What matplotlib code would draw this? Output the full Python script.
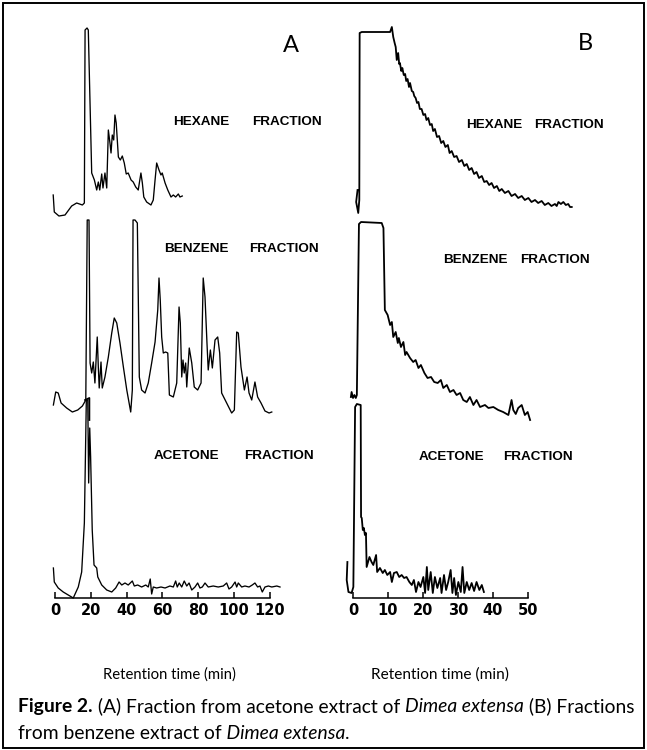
import matplotlib
matplotlib.use("Agg")
import matplotlib.pyplot as plt
from matplotlib.patches import Rectangle

# ---------------- data (retention time in min, detector response in arbitrary units) ----------------
hexA_t = [-1.0,-0.4,2.2,5.6,9.3,12.1,15.3,16.4,16.8,17.9,18.6,20.5,22.0,23.3,24.2,25.0,26.1,26.8,27.9,28.9,
          29.8,30.7,31.3,32.0,32.8,33.5,34.2,35.4,36.5,37.6,38.7,39.8,40.9,42.5,43.7,45.1,46.5,48.0,48.8,49.6,
          51.2,53.6,54.9,55.9,56.8,58.1,59.2,59.9,61.5,63.0,64.8,66.1,67.4,68.9,69.8,71.1]
hexA_r = [21,4,0,1,10,13,11,13,186,188,186,43,36,26,34,26,42,28,43,28,
          86,73,63,81,76,101,93,59,56,60,53,42,43,36,34,29,26,43,33,19,
          14,11,16,36,53,46,41,43,33,26,19,21,19,22,19,20]

benA_t = [-0.9,0.4,1.8,3.4,6.5,9.7,12.7,15.3,17.2,18.0,19.0,19.6,20.5,21.4,22.3,23.6,24.2,24.7,25.7,26.4,
          27.9,29.8,31.7,33.1,34.5,36.3,38.2,40.1,42.3,43.2,43.6,44.7,46.0,47.1,48.4,50.3,52.1,54.0,55.9,57.4,
          58.1,58.8,59.6,60.5,61.8,63.0,63.9,66.1,68.0,69.3,70.0,70.8,71.5,72.2,73.0,73.6,75.0,76.4,77.8,79.7,
          81.6,82.8,83.8,84.9,85.6,86.8,87.9,89.4,90.9,92.0,93.1,95.9,98.7,100.2,101.5,102.4,103.9,105.8,107.3,108.4,
          109.9,111.7,113.2,115.1,117.3,119.6,121.1]
benA_r = [7,20,19,9,4,0,2,6,12,192,192,49,39,50,29,75,45,24,50,24,
          35,55,79,94,89,69,45,22,0,22,192,192,189,35,22,19,29,49,70,102,
          134,112,75,59,60,59,17,15,29,105,89,35,52,39,49,25,64,49,25,22,
          29,134,115,69,42,62,44,72,75,59,19,9,-1,2,80,79,45,22,35,19,
          12,30,15,9,1,-1,0]
benA_mark_t = [16.8, 19.2, 19.2]
benA_mark_r = [12, 14, -8]

aceA_t = [-0.9,-0.4,1.8,4.6,7.4,10.2,13.0,14.9,16.4,17.5,18.3,18.8,19.4,19.9,20.8,21.8,23.3,23.9,26.1,28.9,
          31.7,33.9,35.8,37.3,39.1,40.9,43.2,44.3,46.2,48.4,50.7,52.1,53.2,54.0,54.9,56.8,59.2,61.5,64.2,66.1,
          67.4,68.3,69.4,70.8,72.2,73.6,74.9,76.4,78.2,79.7,81.0,82.3,83.8,85.6,88.4,91.2,94.0,95.9,97.2,98.7,
          100.6,101.5,102.4,104.3,106.1,108.4,110.2,111.7,113.2,114.5,115.8,117.3,119.2,121.1,123.9,125.7]
aceA_r = [30,16,10,6,3,0,11,26,75,198,198,115,170,141,68,33,30,21,13,8,
          6,10,16,13,15,13,17,12,13,11,13,11,19,4,11,10,11,10,12,11,
          17,11,15,11,17,12,15,8,11,15,10,11,15,11,12,11,12,15,9,11,
          16,11,15,11,12,11,13,15,11,12,6,11,12,11,12,11]

hexB_t = [1.3,0.9,1.5,1.8,1.9,2.5,10.6,11.1,11.5,11.9,12.2,12.5,12.9,13.2,13.4,13.8,14.1,14.5,14.9,15.2,
          15.6,16.0,16.3,16.8,17.2,17.5,17.9,18.3,18.7,19.1,19.6,20.1,20.6,21.0,21.5,22.0,22.5,22.9,23.4,24.0,
          24.6,25.2,25.8,26.4,27.1,27.6,28.2,28.9,29.6,30.3,31.1,31.8,32.5,33.2,33.9,34.6,35.3,36.0,36.8,37.5,
          38.2,38.9,39.6,40.3,41.1,41.8,42.5,43.4,44.4,45.3,46.3,47.2,48.2,49.1,50.1,51.0,52.0,52.9,53.9,54.8,
          55.8,56.7,57.7,58.2,58.7,59.4,60.1,60.8,61.5,62.0,62.5]
hexB_r = [23,11,0,13,180,181,181,186,176,170,166,153,160,149,150,142,145,138,139,132,
          134,126,130,122,121,117,115,110,111,104,104,98,99,93,95,88,89,82,84,76,
          77,70,72,66,68,60,62,56,57,51,53,47,49,43,45,39,41,35,37,31,
          32,28,30,25,27,22,24,20,22,17,19,15,17,13,15,11,13,10,12,8,
          10,7,9,7,11,9,11,8,9,6,6]

benB_t = [-0.6,-0.4,0.0,0.4,0.8,1.1,1.7,2.3,8.2,8.7,9.1,9.9,10.6,11.1,11.5,12.2,12.8,13.1,13.7,14.4,
          14.9,15.3,16.3,17.2,17.9,18.7,19.4,20.4,21.3,22.3,23.2,24.2,25.1,25.8,26.8,27.7,28.7,29.6,30.6,31.5,
          32.5,33.4,34.4,35.3,36.3,37.7,38.7,40.1,41.5,42.9,44.4,45.3,45.8,46.5,47.2,48.2,49.1,49.9,50.6]
benB_r = [23,28,22,25,22,25,196,198,197,192,110,105,95,98,83,88,77,82,73,78,
          65,68,62,58,60,52,55,47,42,43,38,37,40,32,35,28,30,25,27,20,
          18,23,15,20,13,15,12,13,10,8,5,20,10,6,12,15,5,8,0]

aceB_t = [-1.6,-1.8,-1.3,-0.4,0.1,0.6,1.1,2.2,2.3,2.5,2.8,3.1,3.4,3.7,3.9,4.7,5.3,5.8,6.6,6.9,
          7.7,8.5,9.1,9.8,10.6,11.1,11.7,12.5,13.2,13.9,14.6,15.3,16.1,16.8,17.4,18.0,18.7,19.3,20.1,20.6,
          21.1,21.5,22.2,22.8,23.4,24.1,24.9,25.3,26.0,26.6,27.2,27.9,28.4,28.9,29.4,30.1,30.8,31.3,31.8,32.5,
          33.2,33.9,34.6,35.3,36.1,36.8,37.4]
aceB_r = [36,18,6,5,11,191,194,193,81,80,68,70,63,65,31,41,36,33,43,26,
          30,25,28,23,26,16,25,26,21,23,20,21,16,13,18,6,16,11,21,5,
          31,8,26,5,21,10,20,5,23,8,16,28,5,20,3,16,6,31,5,16,
          8,15,7,16,8,13,6]

ticksA = [0, 20, 40, 60, 80, 100, 120]
ticksB = [0, 10, 20, 30, 40, 50]
fraction_names = ["HEXANE", "BENZENE", "ACETONE"]
panel_letters = ["A", "B"]
xlabel = "Retention time (min)"

# ---------------- layout ----------------
W, H = 647, 750
fig = plt.figure(figsize=(W / 100, H / 100), dpi=100)
fig.patch.set_facecolor("white")
renderer = fig.canvas.get_renderer()


def px_axes(x0, x1, y0, y1):
    return fig.add_axes([x0 / W, 1 - y1 / H, (x1 - x0) / W, (y1 - y0) / H])


def style_axis(ax, ticks):
    for s in ("left", "right", "top"):
        ax.spines[s].set_visible(False)
    ax.spines["bottom"].set_bounds(ticks[0], ticks[-1])
    ax.spines["bottom"].set_linewidth(1.1)
    ax.set_yticks([])
    ax.set_xticks(ticks)
    ax.set_xticklabels([str(t) for t in ticks], fontsize=10.5, fontweight="bold",
                       family="DejaVu Sans")
    ax.tick_params(axis="x", direction="in", length=4.5, width=1.1, pad=3.5)
    ax.patch.set_alpha(0)


# panel A: t=0 at x=55 px, 1.79 px/min
axA = px_axes(45, 290, 15, 598)
axA.set_xlim((45 - 55) / 1.79, (290 - 55) / 1.79)
axA.set_ylim(0, 583)
offA = [382, 186, 0]
for (t, r), off in zip([(hexA_t, hexA_r), (benA_t, benA_r), (aceA_t, aceA_r)], offA):
    axA.plot(t, [v + off for v in r], color="black", lw=0.95, clip_on=False)
axA.plot(benA_mark_t, [v + offA[1] for v in benA_mark_r], color="black", lw=1.3, clip_on=False)
style_axis(axA, ticksA)

# panel B: t=0 at x=353 px, 3.5 px/min
axB = px_axes(335, 590, 15, 598)
axB.set_xlim((335 - 353) / 3.5, (590 - 353) / 3.5)
axB.set_ylim(0, 583)
offB = [385, 178, 0]
for (t, r), off in zip([(hexB_t, hexB_r), (benB_t, benB_r), (aceB_t, aceB_r)], offB):
    axB.plot(t, [v + off for v in r], color="black", lw=1.3, clip_on=False)
style_axis(axB, ticksB)

# fraction labels (left x of each word, centre y), px
lab_font = dict(fontsize=9.7, fontweight="bold", family="Liberation Sans", va="center", ha="left")
label_pos = [
    [(173, 252, 122), (164, 249, 249), (154, 244, 456)],
    [(466, 534, 125), (443, 520, 260), (419, 503, 457)],
]
for panel in label_pos:
    for name, (x1, x2, y) in zip(fraction_names, panel):
        fig.text(x1 / W, 1 - y / H, name, **lab_font)
        fig.text(x2 / W, 1 - y / H, "FRACTION", **lab_font)

for letter, (x, y) in zip(panel_letters, [(291, 45), (585, 44)]):
    fig.text(x / W, 1 - y / H, letter, fontsize=17, family="Lato", ha="center", va="center")

CAP_FONT = "Lato"


def fit_text(x, y, s, width, size=10, **kw):
    t = fig.text(x / W, 1 - y / H, s, fontsize=size, family=CAP_FONT, **kw)
    w = t.get_window_extent(renderer).width
    t.set_fontsize(size * width / w)
    return t


fit_text(169, 675, xlabel, 133, ha="center", va="center")
fit_text(440, 675, xlabel, 138, ha="center", va="center")


def rich_line(x, y, parts, size):
    cx = x
    for s, wt, st in parts:
        t = fig.text(cx / W, 1 - y / H, s, fontsize=size, fontweight=wt, fontstyle=st,
                     family=CAP_FONT, va="baseline", ha="left")
        cx += t.get_window_extent(renderer).width
    return cx - x


line1 = [("Figure 2.", "bold", "normal"), (" (A) Fraction from acetone extract of ", "normal", "normal"),
         ("Dimea extensa", "normal", "italic"), (" (B) Fractions", "normal", "normal")]
line2 = [("from benzene extract of", "normal", "normal"), (" Dimea extensa", "normal", "italic"),
         (".", "normal", "normal")]

# measure line 1 at a trial size, then redraw at a size that fits the reference width
n0 = len(fig.texts)
w = rich_line(18, 712, line1, 12)
for t in list(fig.texts[n0:]):
    t.remove()
cap_size = 12 * 614 / w
rich_line(18, 712, line1, cap_size)
rich_line(18, 739, line2, cap_size)

fig.patches.append(Rectangle((3 / W, 2 / H), 641 / W, 745 / H, transform=fig.transFigure,
                             fill=False, lw=1.4, edgecolor="black"))

fig.savefig("out.png", dpi=100, facecolor="white")
